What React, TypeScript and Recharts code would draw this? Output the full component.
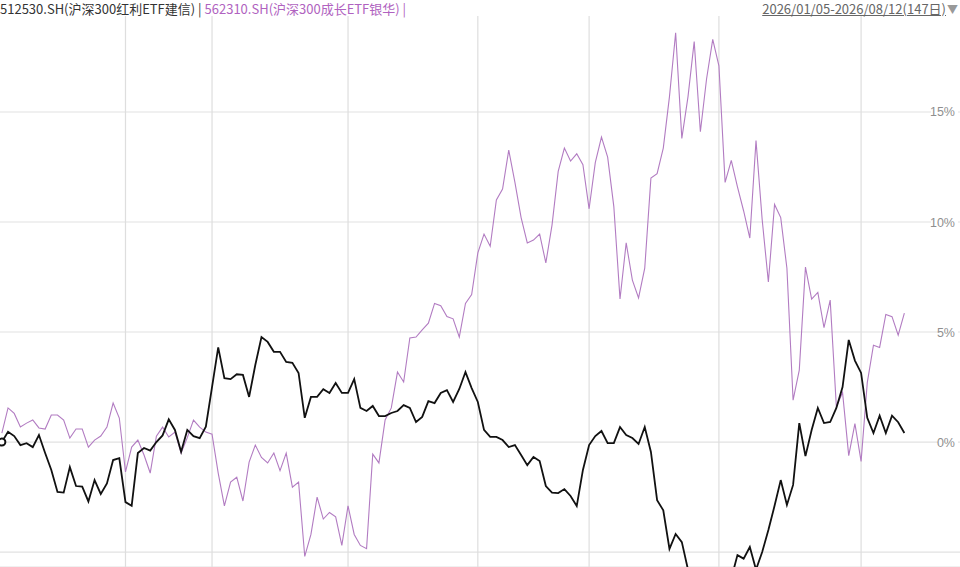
import React from 'react';
import { LineChart, Line, XAxis, YAxis, CartesianGrid, ReferenceLine } from 'recharts';

// 512530.SH 沪深300红利ETF建信, cumulative return %
const dividendEtf = [
  0.0, 0.47, 0.27, -0.14, -0.05, -0.23, 0.32, -0.5, -1.27, -2.27,
  -2.3, -1.14, -2.0, -2.03, -2.7, -1.73, -2.36, -1.88, -0.82, -0.73,
  -2.73, -2.9, -0.5, -0.27, -0.39, 0.0, 0.3, 1.03, 0.55, -0.44,
  0.55, 0.27, 0.18, 0.7, 2.5, 4.3, 2.9, 2.86, 3.08, 3.05,
  2.05, 3.5, 4.77, 4.55, 4.1, 4.1, 3.64, 3.6, 3.14, 1.1,
  2.05, 2.05, 2.4, 2.23, 2.68, 2.23, 2.23, 2.86, 1.55, 1.41,
  1.64, 1.18, 1.18, 1.32, 1.41, 1.68, 1.55, 0.91, 1.14, 1.86,
  1.77, 2.23, 2.36, 1.82, 2.41, 3.18, 2.45, 1.82, 0.55, 0.23,
  0.23, 0.09, -0.23, -0.14, -0.59, -1.05, -0.68, -0.86, -2.0, -2.3,
  -2.32, -2.14, -2.45, -2.91, -1.27, -0.14, 0.27, 0.5, -0.05, -0.05,
  0.68, 0.32, 0.18, -0.09, 0.68, -0.45, -2.64, -3.1, -4.86, -4.18,
  -4.55, -5.8, -6.5, -7.0, -6.8, -7.3, -7.0, -6.6, -6.2, -5.14,
  -5.3, -4.77, -5.8, -5.0, -4.0, -2.9, -1.73, -2.86, -1.95, 0.86,
  -0.64, 0.55, 1.55, 0.86, 0.91, 1.55, 2.5, 4.64, 3.7, 3.14,
  1.1, 0.41, 1.2, 0.41, 1.2, 0.9, 0.41,
];

// 562310.SH 沪深300成长ETF银华, cumulative return %
const growthEtf = [
  0.4, 1.55, 1.3, 0.68, 0.86, 1.0, 0.64, 0.59, 1.23, 1.23,
  1.0, 0.18, 0.59, 0.59, -0.23, 0.09, 0.27, 0.68, 1.77, 1.09,
  -1.36, -0.23, 0.09, -0.59, -1.41, 0.27, 0.68, 0.23, 0.45, -0.5,
  0.2, 1.0, 0.68, 0.45, 0.36, -1.41, -2.9, -1.82, -1.6, -2.68,
  -0.91, -0.14, -0.7, -0.95, -0.5, -1.3, -0.5, -2.05, -1.82, -5.2,
  -4.2, -2.5, -3.5, -3.2, -3.4, -4.7, -2.9, -4.2, -4.7, -4.85,
  -0.55, -0.95, 1.0, 1.55, 3.18, 2.73, 4.73, 4.77, 5.1, 5.4,
  6.3, 6.2, 5.7, 5.6, 4.77, 6.3, 6.7, 8.6, 9.45, 8.9,
  11.0, 11.5, 13.27, 11.8, 10.2, 9.05, 9.18, 9.45, 8.14, 9.86,
  12.3, 13.36, 12.77, 13.1, 12.6, 10.6, 12.7, 13.86, 12.95, 10.7,
  6.5, 9.05, 7.36, 6.55, 7.9, 12.0, 12.2, 13.36, 15.7, 18.6,
  13.8, 15.7, 18.2, 14.1, 16.5, 18.3, 17.1, 11.8, 12.8, 11.6,
  10.5, 9.27, 13.7, 10.1, 7.27, 10.8, 10.2, 7.9, 1.9, 3.27,
  7.95, 6.5, 6.8, 5.2, 6.45, 1.6, 2.25, -0.62, 0.84, -0.88,
  2.7, 4.4, 4.3, 5.8, 5.7, 4.86, 5.86,
];

// first trading day of each month (Feb..Aug), as day index
const monthStarts = [20, 34, 56, 77, 95, 116, 139];
const pctTicks = [-5, 0, 5, 10, 15, 20];
const labelledTicks = [0, 5, 10, 15];

const chartData = dividendEtf.map((v, i) => ({ day: i, dividend: v, growth: growthEtf[i] }));

// right-side percent label drawn inside the plot, over a white patch
const pctLabel = (value: number) => (props: any) => {
  const vb = props.viewBox || {};
  const right = (vb.x || 0) + (vb.width || 0) - 5;
  const y = vb.y || 0;
  const label = `${value}%`;
  const w = label.length * 7 + 6;
  return (
    <g>
      <rect x={right - w + 3} y={y - 8} width={w} height={16} fill="#fff" />
      <text x={right} y={y} dy={4.5} textAnchor="end" fill="#8f8f8f" fontSize={12.5} fontFamily="'Liberation Sans', Arial, sans-serif">
        {label}
      </text>
    </g>
  );
};

const StartDot = (props: any) => {
  const { cx, cy, index } = props;
  if (index !== 0) return <g key={`d${index}`} />;
  return <circle key="start" cx={cx} cy={cy} r={3.5} fill="#fff" stroke="#111" strokeWidth={2} />;
};

export default function App() {
  return (
    <div style={{ position: 'absolute', left: 0, top: 0, width: 960, height: 567, background: '#fff', overflow: 'hidden' }}>
      <LineChart width={960} height={567} data={chartData} margin={{ top: 0, right: 0, bottom: 0, left: 0 }}>
        <CartesianGrid vertical={false} stroke="#e2e2e2" strokeWidth={1.2} />
        <XAxis type="number" dataKey="day" domain={[-0.3, 155]} hide />
        <YAxis hide domain={[-5.68, 20.09]} ticks={pctTicks} allowDataOverflow />
        {monthStarts.map((d) => (
          <ReferenceLine key={d} x={d} stroke="#dedede" strokeWidth={1.2} />
        ))}
        {labelledTicks.map((t) => (
          <ReferenceLine key={`t${t}`} y={t} stroke="none" label={pctLabel(t)} />
        ))}
        <Line
          type="linear"
          dataKey="growth"
          stroke="#b27cc2"
          strokeWidth={1.1}
          dot={false}
          isAnimationActive={false}
        />
        <Line
          type="linear"
          dataKey="dividend"
          stroke="#111"
          strokeWidth={1.8}
          dot={<StartDot />}
          isAnimationActive={false}
        />
      </LineChart>
      <div
        style={{
          position: 'absolute',
          left: 0,
          top: 0,
          width: 960,
          height: 16,
          background: '#fff',
          fontFamily: "'Noto Sans CJK SC', sans-serif",
          fontSize: 13,
          lineHeight: '17px',
          whiteSpace: 'nowrap',
        }}
      >
        <span style={{ color: '#333' }}>512530.SH(沪深300红利ETF建信) | </span>
        <span style={{ color: '#b062c0' }}>562310.SH(沪深300成长ETF银华) |</span>
        <span style={{ position: 'absolute', right: 2, top: 0, color: '#666', fontSize: 13 }}>
          <span style={{ textDecoration: 'underline' }}>2026/01/05-2026/08/12(147日)</span>
          <span style={{ color: '#999', fontSize: 11, marginLeft: 1 }}>▼</span>
        </span>
      </div>
    </div>
  );
}
